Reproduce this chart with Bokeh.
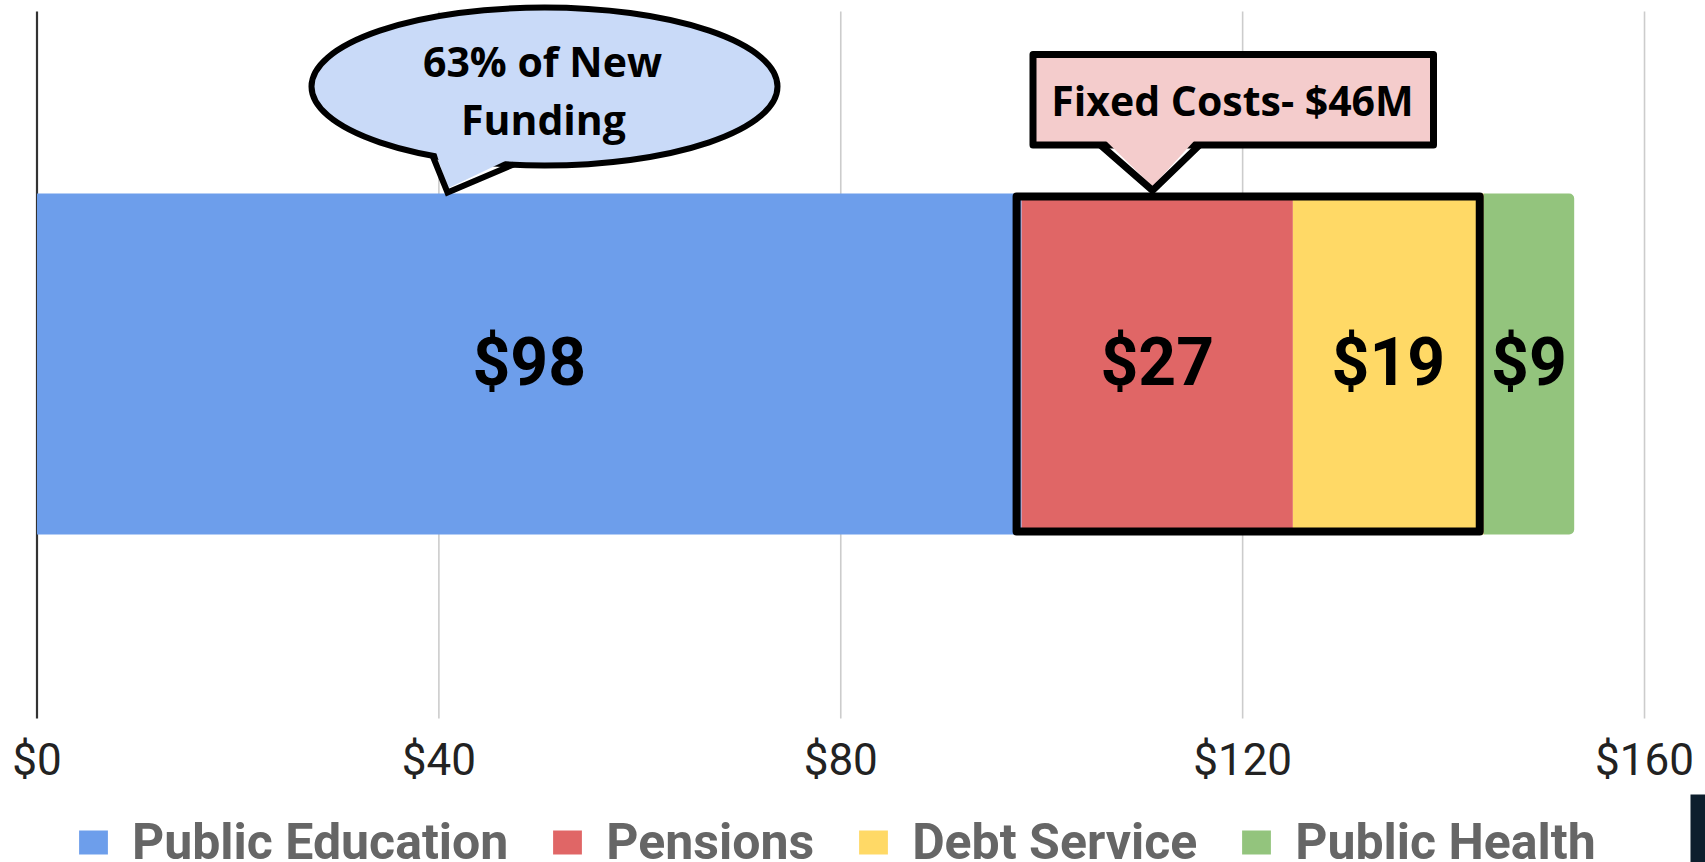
from bokeh.plotting import figure
from bokeh.models import Range1d, FixedTicker, Legend, LegendItem
from bokeh.core.properties import value
from bokeh.embed import file_html
from bokeh.resources import INLINE

# ---------------- data ----------------
categories = ["Public Education", "Pensions", "Debt Service", "Public Health"]
values = [98, 27, 19, 9]
colors = ["#6d9eeb", "#e06666", "#ffd966", "#93c47d"]
value_labels = ["$98", "$27", "$19", "$9"]
tick_values = [0, 40, 80, 120, 160]
tick_labels = ["$0", "$40", "$80", "$120", "$160"]
fixed_cost_groups = ["Pensions", "Debt Service"]
callout_funding = ["63% of New", "Funding"]
callout_fixed = "Fixed Costs- $46M"

# ---------------- layout ----------------
W, H = 1705, 862
PX_PER_UNIT = 10.047
ZERO_PX = 36.5  # px where $0 sits
x_start = -ZERO_PX / PX_PER_UNIT
x_end = x_start + W / PX_PER_UNIT


def X(px):  # canvas px -> data x (annotation helpers)
    return (px - ZERO_PX) / PX_PER_UNIT


def Y(py):  # canvas px -> data y
    return 1 - py / H


PLOT_TOP, PLOT_BOTTOM = 11, 718
BAR_Y = Y(363.5)
BAR_H = 341 / H

p = figure(width=W, height=H, output_backend="svg", toolbar_location=None,
           x_range=Range1d(x_start, x_end), y_range=Range1d(0, 1),
           y_axis_location=None,
           min_border_left=0, min_border_right=0, min_border_top=0,
           min_border_bottom=0)
p.outline_line_color = None
p.background_fill_color = "white"
p.border_fill_color = "white"
p.xgrid.visible = False
p.ygrid.visible = False

ax = p.xaxis[0]
ax.fixed_location = Y(PLOT_BOTTOM)
ax.ticker = FixedTicker(ticks=tick_values)
ax.major_label_overrides = {t: l for t, l in zip(tick_values, tick_labels)}
ax.axis_line_color = None
ax.major_tick_line_color = None
ax.minor_tick_line_color = None
ax.major_tick_out = 0
ax.major_tick_in = 0
ax.major_label_standoff = 15
ax.major_label_text_font = "Roboto"
ax.major_label_text_font_size = "44px"
ax.major_label_text_color = "#222222"

# vertical grid lines (zero line darker)
p.segment(x0=tick_values, x1=tick_values,
          y0=[Y(PLOT_BOTTOM)] * len(tick_values), y1=[Y(PLOT_TOP)] * len(tick_values),
          line_color=["#333333" if t == 0 else "#cccccc" for t in tick_values],
          line_width=[2.2 if t == 0 else 1.6 for t in tick_values])

# ---------------- stacked bar ----------------
items = []
starts, ends = [], []
left = 0
n = len(categories)
for i, (name, v, c) in enumerate(zip(categories, values, colors)):
    radius = [0, 5, 5, 0] if i == n - 1 else 0
    r = p.hbar(y=BAR_Y, left=left, right=left + v, height=BAR_H,
               fill_color=c, line_color=None, border_radius=radius)
    items.append(LegendItem(label=name, renderers=[r]))
    starts.append(left)
    ends.append(left + v)
    left += v

# value labels
centers = [(s + e) / 2 for s, e in zip(starts, ends)]
p.text(x=centers, y=[BAR_Y] * len(centers), text=value_labels,
       text_font=value("Roboto"), text_font_style="bold", text_font_size="66px",
       text_align="center", text_baseline="middle", y_offset=-1.5,
       text_color="black")

# fixed-cost outline (stroke sits just inside the bar edges)
OUT_W = 8
fc_idx = [categories.index(g) for g in fixed_cost_groups]
fc_left = starts[min(fc_idx)]
fc_right = ends[max(fc_idx)]
half_y = (OUT_W / 2 - 1) / H
p.quad(left=fc_left - 0.5, right=fc_right - 0.4,
       top=BAR_Y + BAR_H / 2 - half_y, bottom=BAR_Y - BAR_H / 2 + half_y,
       fill_color=None, line_color="black", line_width=OUT_W, line_join="round")

# ---------------- ellipse callout ----------------
BLUE_FILL = "#c9daf8"
p.ellipse(x=X(544), y=Y(86), width=466, height=158,
          width_units="screen", height_units="screen",
          fill_color=BLUE_FILL, line_color="black", line_width=6)
p.patch(x=[X(435), X(447), X(510)], y=[Y(150), Y(188), Y(158)],
        fill_color=BLUE_FILL, line_color=None)
p.line(x=[X(432), X(447), X(513)], y=[Y(155), Y(192), Y(164)],
       line_color="black", line_width=6, line_join="miter")
p.text(x=[X(542), X(543)], y=[Y(60.5), Y(118.5)], text=callout_funding,
       text_font=value("Open Sans"), text_font_style="bold", text_font_size="41px",
       text_align="center", text_baseline="middle", text_color="black")

# ---------------- box callout ----------------
PINK_FILL = "#f4cccc"
p.quad(left=X(1032.5), right=X(1433), top=Y(54), bottom=Y(144.5),
       fill_color=PINK_FILL, line_color="black", line_width=7, line_join="round")
p.patch(x=[X(1104), X(1152), X(1195)], y=[Y(139), Y(186), Y(139)],
        fill_color=PINK_FILL, line_color=None)
p.line(x=[X(1100), X(1152), X(1199)], y=[Y(144.5), Y(190), Y(144.5)],
       line_color="black", line_width=7, line_join="miter")
p.text(x=[X(1232)], y=[Y(99)], text=[callout_fixed],
       text_font=value("Open Sans"), text_font_style="bold", text_font_size="41px",
       text_align="center", text_baseline="middle", text_color="black")

# dark corner strip seen at the bottom-right of the reference
p.quad(left=X(1690), right=X(1705), top=Y(794), bottom=Y(862),
       fill_color="#0d1e2d", line_color=None)

# ---------------- legend ----------------
legend = Legend(items=items, location=(75, -9), orientation="horizontal",
                label_text_font="Roboto", label_text_font_style="bold",
                label_text_font_size="50px", label_text_color="#666666",
                glyph_width=36, glyph_height=30, label_standoff=21, spacing=41,
                padding=0, margin=0, border_line_color=None,
                background_fill_alpha=0)
p.add_layout(legend)

open("out.html", "w").write(file_html(p, INLINE))
